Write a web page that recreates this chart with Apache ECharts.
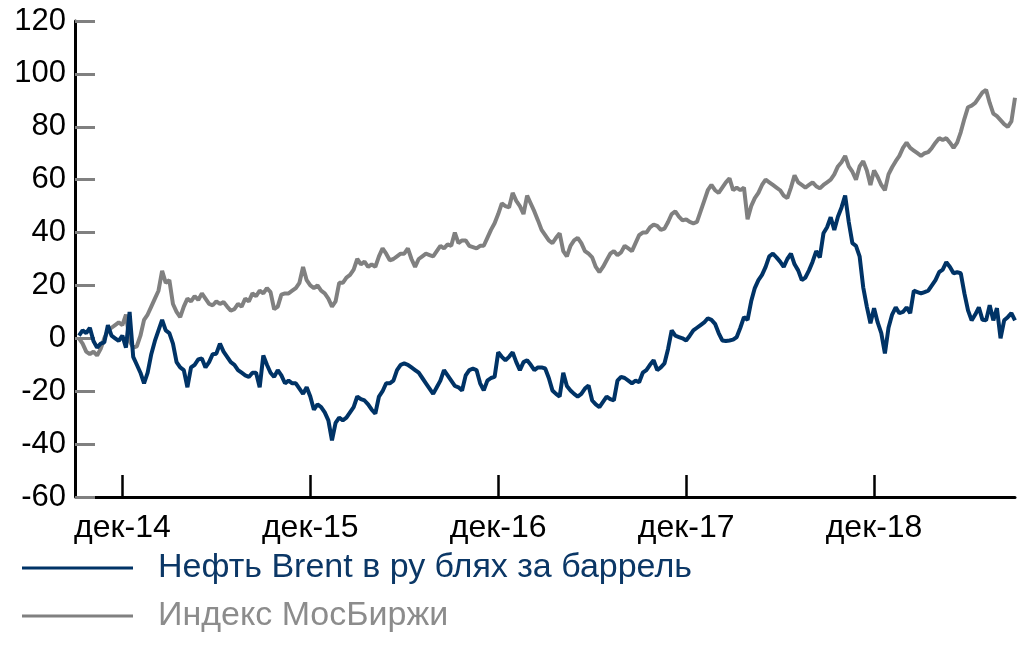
<!DOCTYPE html>
<html>
<head>
<meta charset="utf-8">
<script src="https://cdn.jsdelivr.net/npm/echarts@6/dist/echarts.min.js"></script>
<style>
  html, body { margin: 0; padding: 0; background: #fff; }
  #chart { width: 1023px; height: 662px; }
</style>
</head>
<body>
<div id="chart"></div>
<script>
// weekly points, first one on 2014-09-12
const startDate = '2014-09-12'
const weekCount = 260

const tickDates = ['2014-12-05', '2015-12-04', '2016-12-02', '2017-12-01', '2018-11-30']
const tickLabels = ['дек-14', 'дек-15', 'дек-16', 'дек-17', 'дек-18']

const brentName = 'Нефть Brent в ру блях за баррель'
const moexName = 'Индекс МосБиржи'

const brent = [
  1, 3, 2, 4, -1, -3.5, -2, -1.5, 5, 1,
  0, -1, 1, -3.5, 10, -7, -10, -13, -17, -13,
  -6, -1, 3, 7, 3, 2, -2, -9, -11, -12,
  -18.5, -11, -10, -8, -7.6, -11, -9, -6, -5.8, -2,
  -5, -7, -9, -10, -12, -13, -14, -14.6, -13, -13,
  -18.5, -6.5, -10, -13, -14.6, -12, -14, -17, -16, -17,
  -17, -19, -21, -18.5, -22, -27, -25, -26, -28, -31,
  -38.6, -32, -30, -31, -30, -28, -26, -22, -23, -23.5,
  -25, -27, -28.5, -22, -20, -17, -17, -16, -12, -10,
  -9.5, -10, -11, -12, -13, -15, -17, -19, -21, -18.5,
  -16, -12, -14, -16, -18, -18.5, -19.7, -14, -12, -11.5,
  -12, -17, -19.7, -16, -15, -14.6, -5.3, -7, -8.3, -7,
  -5.3, -9, -12, -9, -8.3, -10, -12, -11, -11, -11.4,
  -15, -19.7, -21, -22, -13, -18, -19.7, -21, -22, -21,
  -19, -17.8, -23.5, -25, -26, -24, -22, -23, -23.5, -16,
  -14.6, -15, -16, -17, -16, -16.6, -13, -12, -10, -8.3,
  -12, -11, -9.5, -4, 3, 1, 0.5, 0, -0.8, 1,
  3, 4, 5, 6, 7.6, 7, 5.5, 2, -0.8, -1,
  -0.8, -0.5, 0.5, 4, 8, 7, 14, 19, 22, 24,
  27, 31, 32, 30.6, 29, 27, 30, 32, 28, 25.7,
  22, 23, 25.7, 29, 33, 30.6, 39.7, 42, 45.8, 41,
  46, 49.5, 54, 44, 36, 35, 31, 19.3, 12, 5.7,
  11.4, 6, 2, -5.7, 4, 9, 11.7, 9.5, 10, 11.7,
  9.5, 18, 17.5, 17, 17.5, 18, 20, 22, 25, 26,
  28.8, 27, 24.6, 25, 24.6, 17, 10.6, 6.8, 9, 11.7,
  7, 6.8, 12.5, 6.8, 11.4, 0, 6.8, 8, 9.5, 6.8
]

const moex = [
  0, -2, -5, -6, -5, -6.5, -4, 0, 3, 4,
  5, 6, 5, 9, -1, -3.5, -3, 1, 7, 9,
  12, 15, 18, 25.5, 21, 22, 13, 10, 8, 12,
  15, 14, 16, 14.5, 17, 15, 13, 12.5, 14, 13,
  13.7, 12, 10.5, 11, 13, 12, 15, 14, 17, 16,
  18, 17, 19, 17.5, 11, 12, 16.5, 17, 17, 18,
  19, 21, 27, 22, 20, 19, 20, 18, 17, 15,
  12, 14, 21, 21, 23, 24, 26, 30, 28, 29,
  27, 28, 27, 31, 34, 32, 29.5, 30, 31, 32,
  32, 34, 30, 27, 30, 31, 32, 31.5, 31, 33,
  35, 34, 35.5, 35, 40, 36, 37, 37, 35, 34.5,
  34, 35, 35, 38, 41, 43.5, 47, 51, 50, 49.5,
  55, 52, 50, 47, 54, 51, 48, 44.6, 41, 39,
  37, 36, 38, 39.7, 33, 31, 35, 37, 38, 36,
  33, 32, 30.6, 27, 25, 27, 29.5, 32, 33, 31.5,
  32.5, 35, 34, 33, 36, 39, 40, 40, 42, 43,
  42.5, 41, 41.5, 44, 47, 48, 46, 44.6, 45, 44,
  43.5, 44, 48, 52, 56, 58, 56, 55, 57, 59,
  60.5, 56, 57, 56, 57, 45, 50, 53, 55, 58,
  60, 59, 58, 57, 56, 54, 53, 57, 61.6, 59,
  58, 57, 58, 59, 57.5, 56.7, 58, 59, 60, 62,
  65, 66.6, 69, 65, 63, 60, 65, 67, 63.5, 58,
  63.5, 61, 58, 56, 62, 64.7, 67, 69, 72, 74,
  72, 71, 70, 69, 70, 70.4, 72, 74, 75.7, 75,
  75.7, 74, 72, 74, 78, 83, 87.4, 88, 89, 91,
  93, 94, 89, 85, 84, 82.5, 81, 80, 82, 91
]

let weeks = []
let d = new Date(startDate + 'T00:00:00Z')
for (let i = 0; i < weekCount; i++) {
  weeks.push(d.toISOString().slice(0, 10))
  d.setUTCDate(d.getUTCDate() + 7)
}

const isTick = function(index, value) {
  return tickDates.indexOf(value) >= 0
}

const font = 'Arial, "Liberation Sans", sans-serif'

let chart = echarts.init(document.getElementById('chart'))
chart.setOption({
  animation: false,
  textStyle: { fontFamily: font },
  grid: { left: 79, right: 8, top: 21, bottom: 165 },
  legend: {
    orient: 'vertical',
    left: 17,
    top: 546,
    itemWidth: 111,
    itemHeight: 3,
    itemGap: 14,
    icon: 'rect',
    data: [
      { name: brentName, textStyle: { color: '#0b3766' } },
      { name: moexName, textStyle: { color: '#8c8c8c' } }
    ],
    textStyle: { fontSize: 34, lineHeight: 34, padding: [0, 0, 0, 20] }
  },
  xAxis: {
    type: 'category',
    data: weeks,
    boundaryGap: false,
    axisLine: { onZero: false, lineStyle: { color: '#000', width: 3 } },
    axisTick: { inside: true, length: 22, interval: isTick, lineStyle: { color: '#000', width: 2.5 } },
    axisLabel: {
      interval: isTick,
      margin: 15,
      fontSize: 32,
      color: '#000',
      formatter: function(value) {
        return tickLabels[tickDates.indexOf(value)]
      }
    },
    splitLine: { show: false }
  },
  yAxis: {
    type: 'value',
    min: -60,
    max: 120,
    interval: 20,
    offset: 4,
    axisLine: { show: true, lineStyle: { color: '#000', width: 3 } },
    axisTick: { show: true, inside: true, length: 20, lineStyle: { color: '#808080', width: 3 } },
    axisLabel: { fontSize: 31, color: '#000', margin: 9 },
    splitLine: { show: false }
  },
  series: [
    {
      name: moexName,
      type: 'line',
      data: moex,
      showSymbol: false,
      color: '#808080',
      lineStyle: { color: '#808080', width: 4 }
    },
    {
      name: brentName,
      type: 'line',
      data: brent,
      showSymbol: false,
      color: '#003366',
      lineStyle: { color: '#003366', width: 4 }
    }
  ]
})
</script>
</body>
</html>
